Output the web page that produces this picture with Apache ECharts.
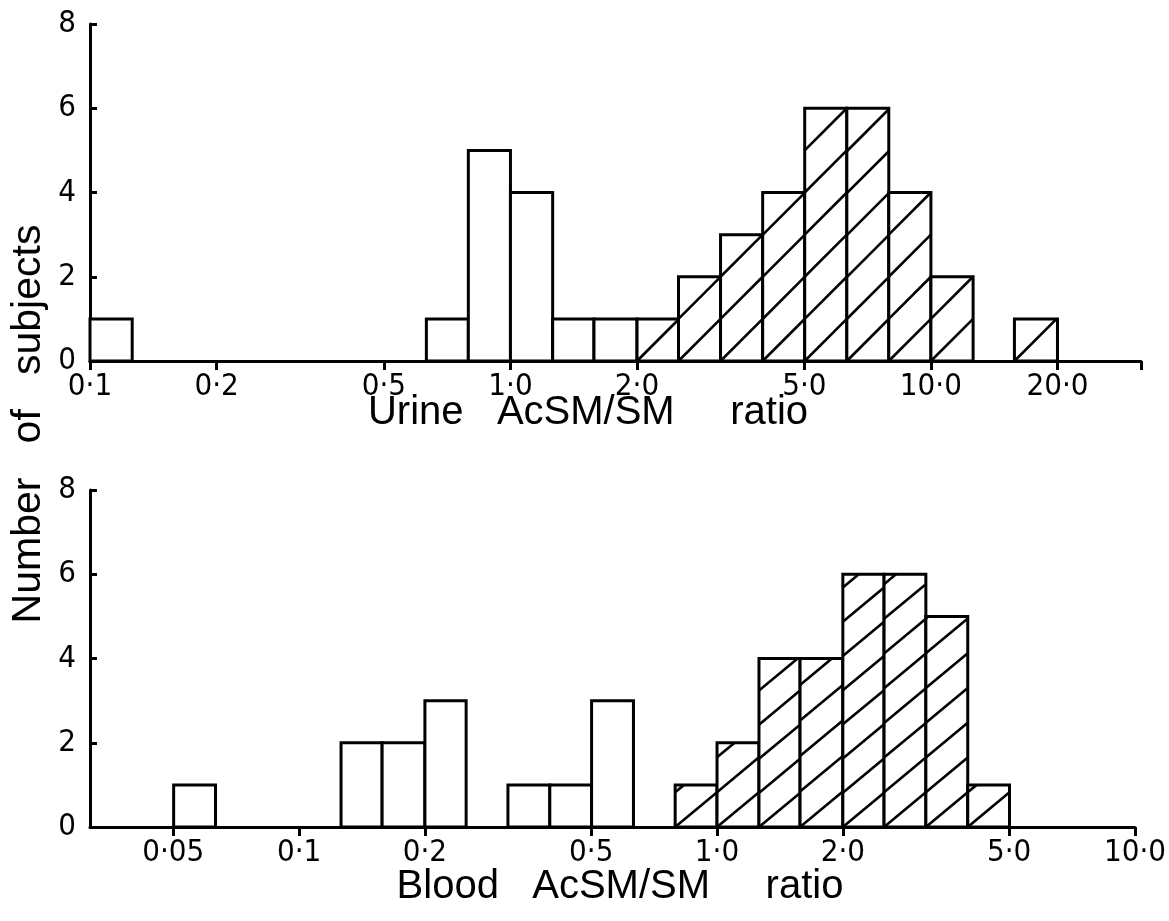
<!DOCTYPE html>
<html>
<head>
<meta charset="utf-8">
<script src="https://cdn.jsdelivr.net/npm/echarts@6/dist/echarts.min.js"></script>
<style>html,body{margin:0;padding:0;background:#fff}#c{width:1169px;height:921px}</style>
</head>
<body>
<div id="c"></div>
<script>
// ---- Urine AcSM/SM ratio histogram (0.1-decade log bins) ----
const urineBinEdges = [0.1,0.126,0.158,0.2,0.251,0.316,0.398,0.501,0.631,0.794,1.0,1.26,1.58,2.0,2.51,3.16,3.98,5.01,6.31,7.94,10.0,12.6,15.8,20.0,25.1,31.6];
const urineCounts   = [1,0,0,0,0,0,0,0,1,5,4,1,1,1,2,3,4,6,6,4,2,0,1,0,0];
const urineHatchFrom = 2.0;
const urineTicks      = [0.1,0.2,0.5,1,2,5,10,20];
const urineTickLabels = ['0·1','0·2','0·5','1·0','2·0','5·0','10·0','20·0'];

// ---- Blood AcSM/SM ratio histogram ----
const bloodBinEdges = [0.0316,0.0398,0.0501,0.0631,0.0794,0.1,0.126,0.158,0.2,0.251,0.316,0.398,0.501,0.631,0.794,1.0,1.26,1.58,2.0,2.51,3.16,3.98,5.01,6.31,7.94,10.0];
const bloodCounts   = [0,0,1,0,0,0,2,2,3,0,1,1,3,0,1,2,4,4,6,6,5,1,0,0,0];
const bloodHatchFrom = 0.794;
const bloodTicks      = [0.05,0.1,0.2,0.5,1,2,5,10];
const bloodTickLabels = ['0·05','0·1','0·2','0·5','1·0','2·0','5·0','10·0'];

const yTicks = [0,2,4,6,8];

const yTitle = 'Number   of   subjects';
const urineTitle = 'Urine   AcSM/SM     ratio';
const bloodTitle = 'Blood   AcSM/SM     ratio';

// -------------------------------------------------------------
const LW = 3;
const labelFont = "'Liberation Sans Narrow','DejaVu Sans Condensed','Liberation Sans',sans-serif";
const titleFont = "'Liberation Sans','Arial',sans-serif";

function buildData(edges, counts, hatchFrom) {
  return counts.map((c, i) => [edges[i], edges[i + 1], c, edges[i] >= hatchFrom - 1e-9 ? 1 : 0]);
}

function makeRender(slope) {
  return function (params, api) {
    const x0 = api.value(0), x1 = api.value(1), n = api.value(2), h = api.value(3);
    if (!n) return null;
    const p0 = api.coord([x0, 0]);
    const p1 = api.coord([x1, n]);
    const L = p0[0], R = p1[0], B = p0[1], T = p1[1];
    const children = [{
      type: 'rect',
      shape: { x: L, y: T, width: R - L, height: B - T },
      style: { fill: '#fff', stroke: '#000', lineWidth: LW }
    }];
    if (h) {
      const step = R - L, H = B - T;
      const kMin = -Math.ceil(H / (slope * step)) - 1;
      for (let k = kMin; k <= 1; k++) {
        const X0 = L + k * step;
        const xs = Math.max(L, X0), xe = Math.min(R, X0 + H / slope);
        if (xe - xs > 0.5) {
          children.push({
            type: 'line',
            shape: { x1: xs, y1: B - slope * (xs - X0), x2: xe, y2: B - slope * (xe - X0) },
            style: { stroke: '#000', lineWidth: 2.6 }
          });
        }
      }
    }
    return { type: 'group', children };
  };
}

function labelFor(ticks, labels) {
  return function (v) {
    let best = 0, bd = Infinity;
    for (let i = 0; i < ticks.length; i++) {
      const d = Math.abs(Math.log10(v) - Math.log10(ticks[i]));
      if (d < bd) { bd = d; best = i; }
    }
    return bd < 0.01 ? labels[best] : '';
  };
}

function xAxisCfg(grid, min, max, ticks, labels, extraTicks) {
  return {
    gridIndex: grid, type: 'log', logBase: 10, min: min, max: max,
    axisLine: { show: true, onZero: false, lineStyle: { color: '#000', width: LW } },
    axisTick: { show: true, inside: false, length: 9, lineStyle: { color: '#000', width: LW },
                customValues: ticks.concat(extraTicks) },
    axisLabel: { show: true, customValues: ticks, formatter: labelFor(ticks, labels),
                 margin: 10, color: '#000', fontSize: 31, fontFamily: labelFont },
    splitLine: { show: false }, minorTick: { show: false }
  };
}

function yAxisCfg(grid) {
  return {
    gridIndex: grid, type: 'value', min: yTicks[0], max: yTicks[yTicks.length - 1], interval: 2,
    axisLine: { show: true, lineStyle: { color: '#000', width: LW } },
    axisTick: { show: true, inside: true, length: 7, lineStyle: { color: '#000', width: LW } },
    axisLabel: { show: true, margin: 14, color: '#000', fontSize: 31, fontFamily: labelFont },
    splitLine: { show: false }
  };
}

const chart = echarts.init(document.getElementById('c'), null, { renderer: 'canvas' });
chart.setOption({
  backgroundColor: '#fff',
  animation: false,
  grid: [
    { left: 90, right: 28, top: 24, height: 337 },
    { left: 90, right: 23, top: 490, height: 337 }
  ],
  xAxis: [
    xAxisCfg(0, 0.1, 31.6, urineTicks, urineTickLabels, [31.6]),
    xAxisCfg(1, 0.0316, 10, bloodTicks, bloodTickLabels, [])
  ],
  yAxis: [yAxisCfg(0), yAxisCfg(1)],
  series: [
    { type: 'custom', xAxisIndex: 0, yAxisIndex: 0, renderItem: makeRender(1.0),
      encode: { x: [0, 1], y: 2 }, data: buildData(urineBinEdges, urineCounts, urineHatchFrom), z: 1 },
    { type: 'custom', xAxisIndex: 1, yAxisIndex: 1, renderItem: makeRender(0.83),
      encode: { x: [0, 1], y: 2 }, data: buildData(bloodBinEdges, bloodCounts, bloodHatchFrom), z: 1 }
  ],
  graphic: [
    { type: 'text', x: 29, y: 424, rotation: Math.PI / 2,
      style: { text: yTitle, font: '41px ' + titleFont, fill: '#000',
               align: 'center', verticalAlign: 'middle', textAlign: 'center', textVerticalAlign: 'middle' } },
    { type: 'text', x: 588, y: 413,
      style: { text: urineTitle, font: '40px ' + titleFont, fill: '#000',
               align: 'center', verticalAlign: 'middle', textAlign: 'center', textVerticalAlign: 'middle' } },
    { type: 'text', x: 620, y: 887,
      style: { text: bloodTitle, font: '40px ' + titleFont, fill: '#000',
               align: 'center', verticalAlign: 'middle', textAlign: 'center', textVerticalAlign: 'middle' } }
  ]
});
</script>
</body>
</html>
